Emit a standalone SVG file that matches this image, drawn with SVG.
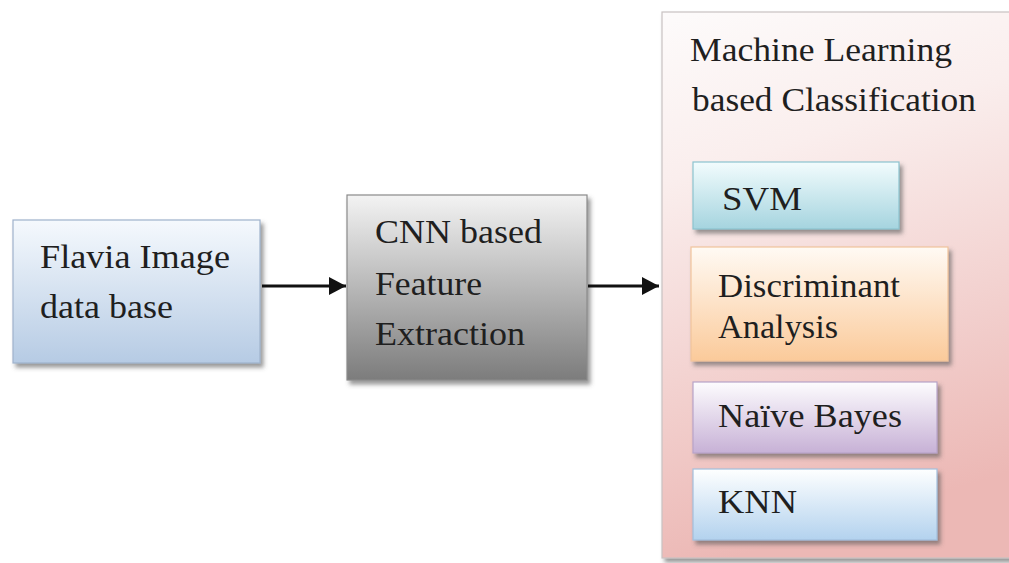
<svg xmlns="http://www.w3.org/2000/svg" width="1009" height="563" viewBox="0 0 1009 563">
<defs>
  <linearGradient id="gBlue" x1="0" y1="0" x2="0" y2="1">
    <stop offset="0" stop-color="#f5f9fd"/>
    <stop offset="1" stop-color="#b6cbe4"/>
  </linearGradient>
  <linearGradient id="gGray" x1="0" y1="0" x2="0" y2="1">
    <stop offset="0" stop-color="#f3f3f3"/>
    <stop offset="1" stop-color="#7c7c7c"/>
  </linearGradient>
  <linearGradient id="gPink" x1="0" y1="0" x2="0.2" y2="1">
    <stop offset="0" stop-color="#fdfbfb"/>
    <stop offset="0.3" stop-color="#faeeed"/>
    <stop offset="1" stop-color="#ecb8b5"/>
  </linearGradient>
  <linearGradient id="gCyan" x1="0" y1="0" x2="0" y2="1">
    <stop offset="0" stop-color="#f2fcfd"/>
    <stop offset="1" stop-color="#a5d4df"/>
  </linearGradient>
  <linearGradient id="gOrange" x1="0" y1="0" x2="0" y2="1">
    <stop offset="0" stop-color="#fffaf4"/>
    <stop offset="1" stop-color="#fbca9a"/>
  </linearGradient>
  <linearGradient id="gPurple" x1="0" y1="0" x2="0" y2="1">
    <stop offset="0" stop-color="#fdfcfe"/>
    <stop offset="1" stop-color="#c7b1d6"/>
  </linearGradient>
  <linearGradient id="gSky" x1="0" y1="0" x2="0" y2="1">
    <stop offset="0" stop-color="#feffff"/>
    <stop offset="1" stop-color="#b3d2ee"/>
  </linearGradient>
  <filter id="shadow" x="-10%" y="-10%" width="125%" height="130%">
    <feDropShadow dx="3" dy="4" stdDeviation="2" flood-color="#555" flood-opacity="0.6"/>
  </filter>
  <marker id="arrow" markerUnits="userSpaceOnUse" markerWidth="20" markerHeight="20" refX="17" refY="10" orient="auto">
    <path d="M0,1 L17,10 L0,19 Z" fill="#111"/>
  </marker>
</defs>
<style>
  .lbl { font-family: "Liberation Serif", "Times New Roman", serif; font-size: 34px; fill: #1f1f1f; }
  .box { stroke-width: 1.2; filter: url(#shadow); }
  .conn { stroke: #111; stroke-width: 3; fill: none; marker-end: url(#arrow); }
</style>
<rect width="1009" height="563" fill="#ffffff"/>

<g id="ml-classification">
  <rect class="box" x="662" y="12" width="352" height="546" fill="url(#gPink)" stroke="#c9c2c2"/>
  <text class="lbl" x="690" y="61" textLength="262" lengthAdjust="spacingAndGlyphs">Machine Learning</text>
  <text class="lbl" x="692" y="111" textLength="284" lengthAdjust="spacingAndGlyphs">based Classification</text>
</g>

<g id="flavia">
  <rect class="box" x="13" y="220" width="247" height="143" fill="url(#gBlue)" stroke="#9fb2cc"/>
  <text class="lbl" x="40" y="268" textLength="190" lengthAdjust="spacingAndGlyphs">Flavia Image</text>
  <text class="lbl" x="40" y="318" textLength="133" lengthAdjust="spacingAndGlyphs">data base</text>
</g>

<g id="cnn">
  <rect class="box" x="347" y="195" width="240" height="185" fill="url(#gGray)" stroke="#8a8a8a"/>
  <text class="lbl" x="375" y="243" textLength="167" lengthAdjust="spacingAndGlyphs">CNN based</text>
  <text class="lbl" x="375" y="295" textLength="107" lengthAdjust="spacingAndGlyphs">Feature</text>
  <text class="lbl" x="375" y="345" textLength="150" lengthAdjust="spacingAndGlyphs">Extraction</text>
</g>

<g id="svm">
  <rect class="box" x="693" y="162" width="206" height="67" fill="url(#gCyan)" stroke="#8cc3cf"/>
  <text class="lbl" x="722" y="210" textLength="80" lengthAdjust="spacingAndGlyphs">SVM</text>
</g>

<g id="discriminant">
  <rect class="box" x="691" y="247" width="257" height="114" fill="url(#gOrange)" stroke="#f0c49c"/>
  <text class="lbl" x="718" y="297" textLength="182" lengthAdjust="spacingAndGlyphs">Discriminant</text>
  <text class="lbl" x="718" y="338" textLength="120" lengthAdjust="spacingAndGlyphs">Analysis</text>
</g>

<g id="naive-bayes">
  <rect class="box" x="693" y="382" width="244" height="71" fill="url(#gPurple)" stroke="#b7a3c8"/>
  <text class="lbl" x="718" y="427" textLength="184" lengthAdjust="spacingAndGlyphs">Naïve Bayes</text>
</g>

<g id="knn">
  <rect class="box" x="693" y="469" width="244" height="71" fill="url(#gSky)" stroke="#a2bfdc"/>
  <text class="lbl" x="718" y="513" textLength="79" lengthAdjust="spacingAndGlyphs">KNN</text>
</g>

<g id="connectors">
  <line class="conn" x1="262" y1="286" x2="346" y2="286"/>
  <line class="conn" x1="588" y1="286" x2="659" y2="286"/>
</g>
</svg>
